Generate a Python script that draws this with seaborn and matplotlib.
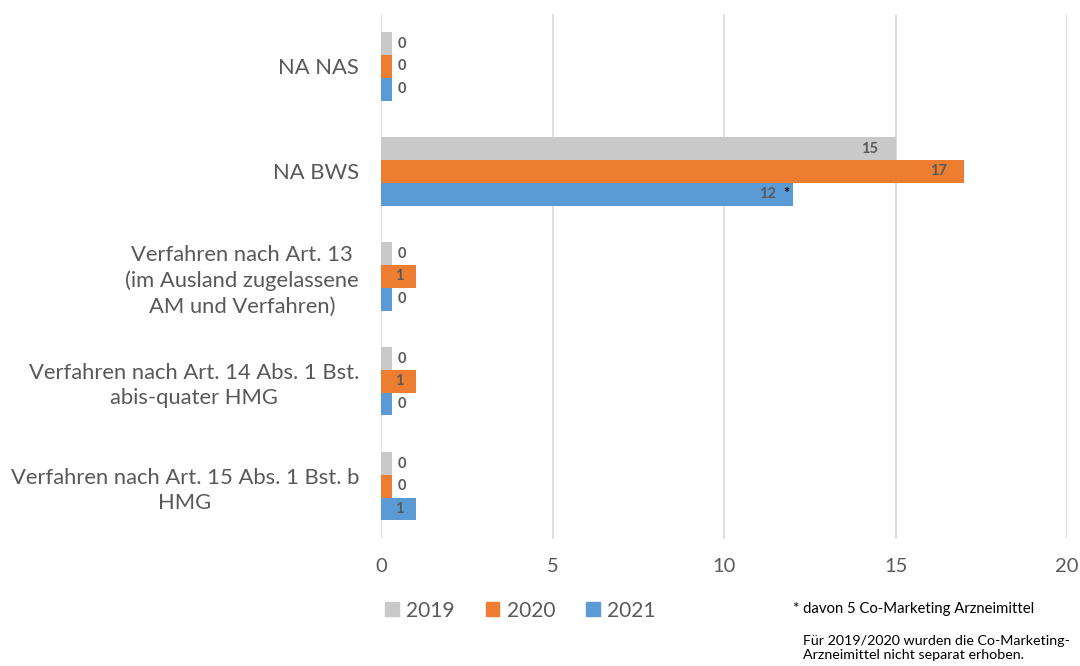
import matplotlib
matplotlib.use("Agg")
import matplotlib.pyplot as plt
import seaborn as sns
import pandas as pd
import numpy as np

# data
categories = [
    "NA NAS",
    "NA BWS",
    "Verfahren nach Art. 13\n(im Ausland zugelassene\nAM und Verfahren)",
    "Verfahren nach Art. 14 Abs. 1 Bst.\nabis-quater HMG",
    "Verfahren nach Art. 15 Abs. 1 Bst. b\nHMG",
]
years = ["2019", "2020", "2021"]
v2019 = [0, 15, 0, 0, 0]
v2020 = [0, 17, 1, 1, 0]
v2021 = [0, 12, 0, 0, 1]
notes2021 = ["", "*", "", "", ""]
xticks = [0, 5, 10, 15, 20]

colors = {"2019": "#C9C9C9", "2020": "#ED7D31", "2021": "#5B9BD5"}

rows = []
for yr, vals in zip(years, [v2019, v2020, v2021]):
    for c, v in zip(categories, vals):
        rows.append({"cat": c, "year": yr, "value": v})
df = pd.DataFrame(rows)
# zero values are shown as a small stub, like in the original
df["shown"] = np.where(df["value"] == 0, 0.32, df["value"])

sns.set_style("white")
plt.rcParams["font.family"] = ["Lato", "DejaVu Sans"]

fig = plt.figure(figsize=(10.8, 6.66), dpi=100)
ax = fig.add_axes([0.353, 0.191, 0.635, 0.788])

sns.barplot(data=df, y="cat", x="shown", hue="year", orient="h", palette=colors,
            width=0.65, ax=ax, legend=False, saturation=1, linewidth=0)

ax.set_xlim(0, 20)
ax.set_xticks(xticks)
ax.set_xlabel("")
ax.set_ylabel("")
for s in ax.spines.values():
    s.set_visible(False)
ax.grid(axis="x", color="#D9D9D9", linewidth=1.2)
ax.set_axisbelow(True)
ax.tick_params(axis="both", length=0, labelcolor="#595959")
ax.tick_params(axis="x", pad=14, labelsize=14.5)
ax.tick_params(axis="y", pad=16, labelsize=15.8)
for t in ax.get_yticklabels():
    t.set_multialignment("center")
    t.set_linespacing(1.32)

# value labels
for cont, vals, yr in zip(ax.containers, [v2019, v2020, v2021], years):
    for i, (bar, v) in enumerate(zip(cont, vals)):
        yc = bar.get_y() + bar.get_height() / 2
        if v == 0:
            ax.text(bar.get_width() + 0.15, yc, "0", ha="left", va="center",
                    fontsize=10.5, fontweight="bold", color="#595959")
        else:
            note = notes2021[i] if yr == "2021" else ""
            off = 0.35 if v < 2 else 0.5
            ax.text(v - off, yc, str(v), ha="right", va="center",
                    fontsize=10.5, fontweight="bold", color="#595959")
            if note:
                ax.text(v - 0.1, yc, note, ha="right", va="center",
                        fontsize=10.5, fontweight="bold", color="#000000")

# legend at the bottom
handles = [plt.Rectangle((0, 0), 1, 1, color=colors[y]) for y in years]
fig.legend(handles, years, loc="center", bbox_to_anchor=(0.482, 0.083), ncol=3,
           frameon=False, fontsize=15, labelcolor="#595959", handlelength=0.65,
           handleheight=0.65, handletextpad=0.35, columnspacing=1.5)

fig.text(793 / 1080, 1 - 609 / 666, "* davon 5 Co-Marketing Arzneimittel",
         fontsize=10.7, color="#000000", va="center", ha="left")
fig.text(803 / 1080, 1 - 648 / 666,
         "Für 2019/2020 wurden die Co-Marketing-\nArzneimittel nicht separat erhoben.",
         fontsize=10.3, color="#000000", va="center", ha="left", linespacing=1.15)

fig.savefig("out.png", dpi=100)
